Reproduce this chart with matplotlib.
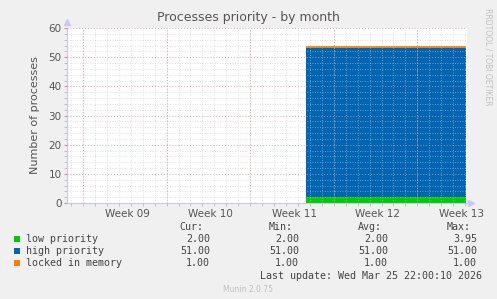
import matplotlib.pyplot as plt
from matplotlib.patches import Rectangle
import numpy as np

#=======Data (x in days from left edge of graph)
days = [20.0, 33.45]
low_priority = [2, 2]
high_priority = [51, 51]
locked_memory = [1, 1]

series_names = ['low priority', 'high priority', 'locked in memory']
series_colors = ['#00CC00', '#0066B3', '#FF8000']
cur = ['2.00', '51.00', '1.00']
mins = ['2.00', '51.00', '1.00']
avgs = ['2.00', '51.00', '1.00']
maxs = ['3.95', '51.00', '1.00']

week_labels = ['Week 09', 'Week 10', 'Week 11', 'Week 12', 'Week 13']
week_label_pos = [5.03, 12.03, 19.03, 26.03, 33.03]
week_grid_pos = [1.34, 8.34, 15.34, 22.34, 29.34]

bg = '#F0F0F0'
txt = '#555555'

#==============Plotting data
fig = plt.figure(figsize=(4.97, 2.99), dpi=100, facecolor=bg)
ax = fig.add_axes([67/497, 1-203/299, 400/497, 175/299])
ax.set_facecolor('white')

x = np.array(days)
b1 = np.array(low_priority)
b2 = b1 + np.array(high_priority)
b3 = b2 + np.array(locked_memory)
ax.fill_between(x, 0, b1, color=series_colors[0], lw=0, zorder=1)
ax.fill_between(x, b1, b2, color=series_colors[1], lw=0, zorder=1)
ax.fill_between(x, b2, b3, color=series_colors[2], lw=0, zorder=1)

ax.set_xlim(0, 33.5)
ax.set_ylim(0, 60)

# grid
ax.set_yticks(np.arange(0, 61, 10))
ax.set_yticks(np.arange(0, 61, 2), minor=True)
minor_days = np.arange(week_grid_pos[0] - 1, 33.5, 1.0)
ax.set_xticks(minor_days, minor=True)
ax.set_xticks(week_label_pos)
ax.set_xticklabels(week_labels)
ax.grid(which='minor', color='#C8C8C8', linestyle=(0, (1, 2)), lw=0.6, alpha=0.7, zorder=2)
ax.grid(which='major', axis='y', color='#E09090', linestyle=(0, (1, 2)), lw=0.7, alpha=0.8, zorder=3)
for g in week_grid_pos:
    ax.axvline(g, color='#E09090', linestyle=(0, (1, 2)), lw=0.7, alpha=0.8, zorder=3)
ax.set_axisbelow(False)

ax.tick_params(axis='x', which='major', length=0, labelsize=7.5, labelcolor=txt, pad=4)
ax.tick_params(axis='x', which='minor', length=2, color='#BBBBBB')
ax.tick_params(axis='y', which='major', length=2, color='#E09090', labelsize=7.5, labelcolor=txt, pad=2)
ax.tick_params(axis='y', which='minor', length=2, color='#BBBBBB')

for s in ['top', 'right']:
    ax.spines[s].set_visible(False)
for s in ['left', 'bottom']:
    ax.spines[s].set_color('#C8C8F0')
    ax.spines[s].set_linewidth(0.8)
ax.plot([0], [1.035], marker='^', color='#C8C8F0', ms=4, transform=ax.transAxes, clip_on=False)
ax.plot([1.01], [0], marker='>', color='#C8C8F0', ms=4, transform=ax.transAxes, clip_on=False)

ax.set_ylabel('Number of processes', fontsize=8, color=txt, labelpad=6)
fig.text(248/497, 1-18/299, 'Processes priority - by month', ha='center', va='center',
         fontsize=9, color=txt)
fig.text(488/497, 1-8/299, 'RRDTOOL / TOBI OETIKER', rotation=270, ha='center', va='top',
         fontsize=5.5, color='#C0C0C0')

# legend table
mono = dict(family='DejaVu Sans Mono', fontsize=7.2, color='#444444')
rows_y = [239, 251, 263]
fig.text(203/497, 1-227/299, 'Cur:', ha='right', va='center', **mono)
fig.text(293/497, 1-227/299, 'Min:', ha='right', va='center', **mono)
fig.text(382/497, 1-227/299, 'Avg:', ha='right', va='center', **mono)
fig.text(471/497, 1-227/299, 'Max:', ha='right', va='center', **mono)
for i in range(3):
    yy = 1 - rows_y[i]/299
    fig.patches.append(Rectangle((14/497, yy - 3/299), 6/497, 6/299, transform=fig.transFigure,
                                 facecolor=series_colors[i], edgecolor='none'))
    fig.text(26/497, yy, series_names[i], ha='left', va='center', **mono)
    fig.text(210/497, yy, cur[i], ha='right', va='center', **mono)
    fig.text(299/497, yy, mins[i], ha='right', va='center', **mono)
    fig.text(388/497, yy, avgs[i], ha='right', va='center', **mono)
    fig.text(477/497, yy, maxs[i], ha='right', va='center', **mono)
fig.text(482/497, 1-276/299, 'Last update: Wed Mar 25 22:00:10 2026', ha='right', va='center', **mono)
fig.text(248/497, 1-289/299, 'Munin 2.0.75', ha='center', va='center', fontsize=5.5, color='#C0C0C0')

plt.savefig('out.png', dpi=100, facecolor=bg)
